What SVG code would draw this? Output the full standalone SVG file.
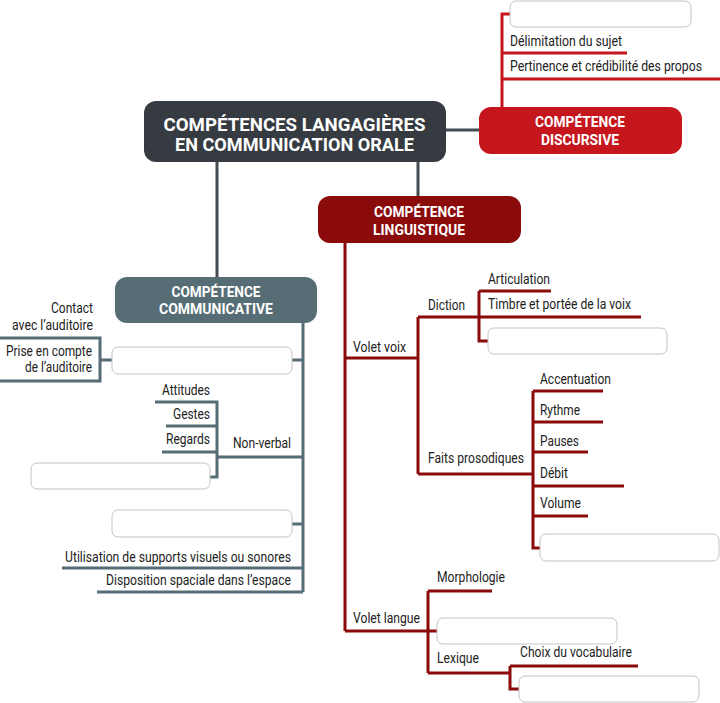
<svg xmlns="http://www.w3.org/2000/svg" width="720" height="703" viewBox="0 0 720 703">
<style>
.t{font-family:Roboto,"Liberation Sans",sans-serif;font-size:14px;fill:#222}
.r{text-anchor:end}
.h{font-family:Roboto,"Liberation Sans",sans-serif;font-weight:bold;fill:#fff;text-anchor:middle}
.box{fill:#fff;stroke:#c4c4c4;stroke-width:1}
.lg{fill:none;stroke:#444b51;stroke-width:3}
.lr{fill:none;stroke:#c4161c;stroke-width:3}
.ld{fill:none;stroke:#8b0a0a;stroke-width:3}
.ls{fill:none;stroke:#566d75;stroke-width:3}
</style>
<rect width="720" height="703" fill="#fff"/>
<g id="connectors">
<path class="lg" d="M446 130H480M418 162V196M217 162V277"/>
<path class="lr" d="M502 107V14H510M502 53H627M502 79H720"/>
<path class="ls" d="M303 323V592M303 360H292M112 360H100M0 338H100V381H0M303 457H217M155 402H217V477H210M166 426H217M162 452H217M303 524H292M62 568H303M97 592H303"/>
<path class="ld" d="M345 243V631M345 358H418M418 317V474M418 317H479M479 291V341H488M479 291H551M479 317H641M418 474H533M533 391V548H540M533 391H603M533 422H603M533 452H588M533 486H624M533 516H588M345 631H437M428 591V673M428 591H492M428 673H510M510 666V689H519M510 666H638"/>
</g>
<g id="main">
<rect x="144" y="101" width="302" height="61" rx="12" fill="#353b41"/>
<text class="h" x="294.5" y="131" font-size="18" textLength="262" lengthAdjust="spacingAndGlyphs">COMPÉTENCES LANGAGIÈRES</text>
<text class="h" x="294.5" y="151" font-size="18" textLength="239" lengthAdjust="spacingAndGlyphs">EN COMMUNICATION ORALE</text>
</g>
<g id="discursive">
<rect x="479" y="107" width="203" height="47" rx="12" fill="#c4161c"/>
<text class="h" x="580" y="127" font-size="15" textLength="90" lengthAdjust="spacingAndGlyphs">COMPÉTENCE</text>
<text class="h" x="580" y="145" font-size="15" textLength="78" lengthAdjust="spacingAndGlyphs">DISCURSIVE</text>
</g>
<g id="disc-items">
<rect class="box" x="510" y="1" width="181" height="26" rx="6"/>
<text class="t" x="510" y="46" textLength="112" lengthAdjust="spacingAndGlyphs">Délimitation du sujet</text>
<text class="t" x="510" y="71" textLength="192" lengthAdjust="spacingAndGlyphs">Pertinence et crédibilité des propos</text>
</g>
<g id="linguistique">
<rect x="318" y="196" width="203" height="47" rx="12" fill="#8b0a0a"/>
<text class="h" x="419" y="217" font-size="15" textLength="90" lengthAdjust="spacingAndGlyphs">COMPÉTENCE</text>
<text class="h" x="419" y="235" font-size="15" textLength="92" lengthAdjust="spacingAndGlyphs">LINGUISTIQUE</text>
</g>
<g id="ling-items">
<text class="t" x="353" y="352" textLength="53" lengthAdjust="spacingAndGlyphs">Volet voix</text>
<text class="t" x="428" y="310" textLength="37" lengthAdjust="spacingAndGlyphs">Diction</text>
<text class="t" x="488" y="284" textLength="62" lengthAdjust="spacingAndGlyphs">Articulation</text>
<text class="t" x="488" y="309" textLength="143" lengthAdjust="spacingAndGlyphs">Timbre et portée de la voix</text>
<rect class="box" x="488" y="328" width="179" height="26" rx="6"/>
<text class="t" x="428" y="463" textLength="96" lengthAdjust="spacingAndGlyphs">Faits prosodiques</text>
<text class="t" x="540" y="384" textLength="71" lengthAdjust="spacingAndGlyphs">Accentuation</text>
<text class="t" x="540" y="415" textLength="40" lengthAdjust="spacingAndGlyphs">Rythme</text>
<text class="t" x="540" y="446" textLength="39" lengthAdjust="spacingAndGlyphs">Pauses</text>
<text class="t" x="540" y="478" textLength="28" lengthAdjust="spacingAndGlyphs">Débit</text>
<text class="t" x="540" y="508" textLength="41" lengthAdjust="spacingAndGlyphs">Volume</text>
<rect class="box" x="540" y="534" width="179" height="27" rx="6"/>
<text class="t" x="353" y="623" textLength="67" lengthAdjust="spacingAndGlyphs">Volet langue</text>
<text class="t" x="437" y="582" textLength="68" lengthAdjust="spacingAndGlyphs">Morphologie</text>
<rect class="box" x="437" y="618" width="180" height="26" rx="6"/>
<text class="t" x="437" y="663" textLength="42" lengthAdjust="spacingAndGlyphs">Lexique</text>
<text class="t" x="520" y="657" textLength="112" lengthAdjust="spacingAndGlyphs">Choix du vocabulaire</text>
<rect class="box" x="519" y="676" width="180" height="26" rx="6"/>
</g>
<g id="communicative">
<rect x="115" y="277" width="202" height="46" rx="12" fill="#566d75"/>
<text class="h" x="216" y="297" font-size="15" textLength="89" lengthAdjust="spacingAndGlyphs">COMPÉTENCE</text>
<text class="h" x="216" y="314" font-size="15" textLength="114" lengthAdjust="spacingAndGlyphs">COMMUNICATIVE</text>
</g>
<g id="comm-items">
<rect class="box" x="112" y="347" width="180" height="27" rx="6"/>
<text class="t r" x="93" y="313" textLength="42" lengthAdjust="spacingAndGlyphs">Contact</text>
<text class="t r" x="93" y="330" textLength="81" lengthAdjust="spacingAndGlyphs">avec l’auditoire</text>
<text class="t r" x="92" y="356" textLength="86" lengthAdjust="spacingAndGlyphs">Prise en compte</text>
<text class="t r" x="92" y="372" textLength="67" lengthAdjust="spacingAndGlyphs">de l’auditoire</text>
<text class="t" x="233" y="448" textLength="58" lengthAdjust="spacingAndGlyphs">Non-verbal</text>
<text class="t r" x="210" y="395" textLength="48" lengthAdjust="spacingAndGlyphs">Attitudes</text>
<text class="t r" x="210" y="419" textLength="37" lengthAdjust="spacingAndGlyphs">Gestes</text>
<text class="t r" x="210" y="444" textLength="44" lengthAdjust="spacingAndGlyphs">Regards</text>
<rect class="box" x="31" y="463" width="179" height="26" rx="6"/>
<rect class="box" x="112" y="510" width="180" height="27" rx="6"/>
<text class="t r" x="291" y="562" textLength="226" lengthAdjust="spacingAndGlyphs">Utilisation de supports visuels ou sonores</text>
<text class="t r" x="291" y="585" textLength="185" lengthAdjust="spacingAndGlyphs">Disposition spaciale dans l’espace</text>
</g>
</svg>
